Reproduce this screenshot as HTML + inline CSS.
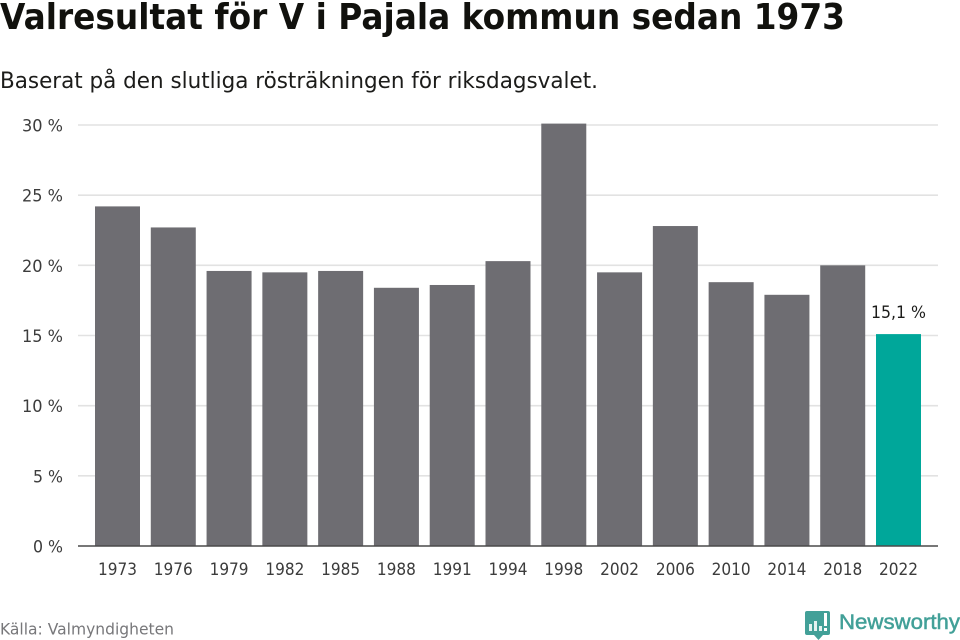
<!DOCTYPE html>
<html lang="sv">
<head>
<meta charset="utf-8">
<title>Valresultat för V i Pajala kommun sedan 1973</title>
<style>
html,body{margin:0;padding:0;background:#fff;width:960px;height:640px;overflow:hidden}
svg{display:block}
text{font-family:"DejaVu Sans","Liberation Sans",sans-serif}
</style>
</head>
<body>
<svg id="chart" width="960" height="640" viewBox="0 0 960 640" xmlns="http://www.w3.org/2000/svg">
  <text x="0" y="29" font-size="36" font-weight="700" fill="#11110d" textLength="845" lengthAdjust="spacingAndGlyphs">Valresultat för V i Pajala kommun sedan 1973</text>
  <text x="0" y="88" font-size="22" fill="#1c1c1a" textLength="598" lengthAdjust="spacingAndGlyphs">Baserat på den slutliga rösträkningen för riksdagsvalet.</text>
  <g id="grid"></g>
  <g id="bars"></g>
  <g id="ylabels"></g>
  <g id="xlabels"></g>
  <line x1="78" x2="938" y1="546" y2="546" stroke="#4a4a4a" stroke-width="1.6"></line>
  <text x="0" y="634.500" font-size="16" fill="#77777a" textLength="174" lengthAdjust="spacingAndGlyphs">Källa: Valmyndigheten</text>
  <g>
    <path d="M807 611h21a2 2 0 0 1 2 2v20a2 2 0 0 1-2 2h-5l-4.500 5-4.500-5h-7a2 2 0 0 1-2-2v-20a2 2 0 0 1 2-2z" fill="#42a098"></path>
    <rect x="809" y="624" width="3" height="7" fill="#e4f2f0"></rect>
    <rect x="814" y="621" width="3" height="10" fill="#e4f2f0"></rect>
    <rect x="819" y="626" width="3" height="5" fill="#e4f2f0"></rect>
    <rect x="824" y="613" width="3" height="13" fill="#fff"></rect>
    <rect x="824" y="628" width="3" height="3" fill="#fff"></rect>
    <text x="839" y="629" font-size="21" font-weight="400" fill="#42a098" stroke="#42a098" stroke-width="0.5" textLength="121" lengthAdjust="spacingAndGlyphs" style="font-family:'Liberation Sans',sans-serif">Newsworthy</text>
  </g>
</svg>
<script>
const years = ["1973","1976","1979","1982","1985","1988","1991","1994","1998","2002","2006","2010","2014","2018","2022"];
const shares = [24.2,22.7,19.6,19.5,19.6,18.4,18.6,20.3,30.1,19.5,22.8,18.8,17.9,20.0,15.1];
const yTicks = [0,5,10,15,20,25,30];
const highlightLabel = "15,1 %";

const NS = "http://www.w3.org/2000/svg";
function yScale(v){ return 546 - v * (421 / 30); }
function xCenter(i){ return 117.5 + i * (781 / 14); }
const barWidth = 45;

const grid = document.getElementById("grid");
const ylabels = document.getElementById("ylabels");
yTicks.forEach(function(t){
  if (t !== 0) {
    const l = document.createElementNS(NS, "line");
    
    
    l.setAttribute("x1", 78);
    l.setAttribute("x2", 938);
    l.setAttribute("y1", yScale(t));
    l.setAttribute("y2", yScale(t));
    l.setAttribute("stroke", "#e2e2e2");
    l.setAttribute("stroke-width", "1.6");
    grid.appendChild(l);
  }
  const tx = document.createElementNS(NS, "text");
  
  
  tx.setAttribute("x", 63);
  tx.setAttribute("y", yScale(t) + 6.5);
  tx.setAttribute("text-anchor", "end");
  tx.setAttribute("font-size", "17");
  tx.setAttribute("fill", "#3c3c3c");
  tx.setAttribute("textLength", t < 10 ? "30" : "41");
  tx.setAttribute("lengthAdjust", "spacingAndGlyphs");
  tx.textContent = t + " %";
  ylabels.appendChild(tx);
});

const bars = document.getElementById("bars");
const xlabels = document.getElementById("xlabels");
years.forEach(function(y, i){
  const last = i === years.length - 1;
  const r = document.createElementNS(NS, "rect");
  
  
  r.setAttribute("x", xCenter(i) - barWidth / 2);
  r.setAttribute("y", yScale(shares[i]));
  r.setAttribute("width", barWidth);
  r.setAttribute("height", 546 - yScale(shares[i]));
  r.setAttribute("fill", last ? "#00a79a" : "#6e6d72");
  bars.appendChild(r);

  const tx = document.createElementNS(NS, "text");
  
  
  tx.setAttribute("x", xCenter(i));
  tx.setAttribute("y", 575);
  tx.setAttribute("text-anchor", "middle");
  tx.setAttribute("font-size", "17");
  tx.setAttribute("fill", "#3c3c3c");
  tx.setAttribute("textLength", "39");
  tx.setAttribute("lengthAdjust", "spacingAndGlyphs");
  tx.textContent = y;
  xlabels.appendChild(tx);

  if (last) {
    const v = document.createElementNS(NS, "text");
    
    
    v.setAttribute("x", xCenter(i));
    v.setAttribute("y", yScale(shares[i]) - 16);
    v.setAttribute("text-anchor", "middle");
    v.setAttribute("font-size", "17");
    v.setAttribute("fill", "#1c1c1a");
    v.setAttribute("textLength", "55");
    v.setAttribute("lengthAdjust", "spacingAndGlyphs");
    v.textContent = highlightLabel;
    bars.appendChild(v);
  }
});
</script>
</body>
</html>
